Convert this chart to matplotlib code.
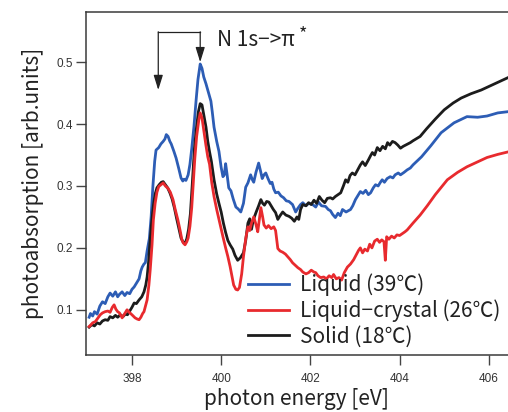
import matplotlib
matplotlib.use("Agg")
import matplotlib.pyplot as plt
import numpy as np

plt.rcParams["font.family"] = ["Liberation Sans", "DejaVu Sans"]

# N K-edge NEXAFS spectra, three phases
liquid_e = [397.04, 397.07, 397.12, 397.16, 397.22, 397.28, 397.34, 397.40, 397.46, 397.51,
            397.57, 397.63, 397.68, 397.72, 397.78, 397.84, 397.89, 397.95, 398.00, 398.05,
            398.10, 398.16, 398.20, 398.23, 398.27, 398.30, 398.34, 398.39, 398.43, 398.47,
            398.51, 398.54, 398.60, 398.65, 398.70, 398.74, 398.77, 398.81, 398.85, 398.88,
            398.94, 398.99, 399.05, 399.10, 399.14, 399.17, 399.21, 399.26, 399.30, 399.34,
            399.39, 399.44, 399.48, 399.53, 399.57, 399.61, 399.66, 399.70, 399.73, 399.77,
            399.80, 399.84, 399.90, 399.95, 400.00, 400.04, 400.07, 400.10, 400.13, 400.17,
            400.22, 400.27, 400.33, 400.38, 400.44, 400.50, 400.55, 400.60, 400.66, 400.70,
            400.73, 400.78, 400.84, 400.88, 400.92, 400.96, 401.00, 401.05, 401.10, 401.14,
            401.18, 401.22, 401.28, 401.34, 401.40, 401.46, 401.52, 401.60, 401.67, 401.72,
            401.78, 401.83, 401.90, 401.96, 402.05, 402.12, 402.18, 402.25, 402.34, 402.40,
            402.45, 402.50, 402.56, 402.62, 402.67, 402.72, 402.80, 402.90, 402.95, 403.01,
            403.06, 403.12, 403.18, 403.24, 403.30, 403.35, 403.41, 403.46, 403.52, 403.57,
            403.61, 403.66, 403.72, 403.79, 403.85, 403.90, 403.97, 404.02, 404.10, 404.17,
            404.24, 404.30, 404.49, 404.70, 404.93, 405.22, 405.51, 405.75, 405.96, 406.20,
            406.43]
liquid_y = [0.088, 0.094, 0.090, 0.097, 0.093, 0.106, 0.113, 0.110, 0.121, 0.127,
            0.122, 0.129, 0.121, 0.125, 0.129, 0.123, 0.128, 0.126, 0.133, 0.137,
            0.143, 0.150, 0.163, 0.169, 0.174, 0.176, 0.195, 0.215, 0.250, 0.300,
            0.340, 0.358, 0.362, 0.368, 0.372, 0.376, 0.383, 0.380, 0.372, 0.368,
            0.356, 0.345, 0.328, 0.313, 0.308, 0.311, 0.309, 0.318, 0.335, 0.360,
            0.396, 0.440, 0.472, 0.497, 0.490, 0.476, 0.465, 0.455, 0.447, 0.437,
            0.420, 0.395, 0.372, 0.356, 0.330, 0.315, 0.318, 0.336, 0.320, 0.297,
            0.292, 0.279, 0.266, 0.263, 0.258, 0.272, 0.298, 0.305, 0.318, 0.310,
            0.306, 0.322, 0.337, 0.325, 0.312, 0.318, 0.321, 0.312, 0.304, 0.306,
            0.295, 0.289, 0.290, 0.284, 0.281, 0.276, 0.275, 0.270, 0.258, 0.264,
            0.270, 0.273, 0.268, 0.272, 0.270, 0.266, 0.274, 0.268, 0.267, 0.262,
            0.260, 0.254, 0.249, 0.256, 0.252, 0.262, 0.258, 0.262, 0.268, 0.278,
            0.284, 0.291, 0.288, 0.293, 0.286, 0.289, 0.297, 0.302, 0.300, 0.306,
            0.310, 0.306, 0.312, 0.315, 0.313, 0.318, 0.321, 0.318, 0.322, 0.326,
            0.329, 0.334, 0.347, 0.365, 0.386, 0.402, 0.412, 0.411, 0.413, 0.418,
            0.420]

lc_e = [397.04, 397.07, 397.12, 397.18, 397.23, 397.29, 397.34, 397.40, 397.46, 397.51,
        397.56, 397.60, 397.64, 397.68, 397.72, 397.78, 397.83, 397.89, 397.94, 398.00,
        398.04, 398.07, 398.12, 398.16, 398.20, 398.24, 398.27, 398.30, 398.34, 398.38,
        398.41, 398.45, 398.48, 398.52, 398.56, 398.60, 398.65, 398.70, 398.75, 398.81,
        398.86, 398.92, 398.97, 399.03, 399.08, 399.12, 399.15, 399.19, 399.23, 399.26,
        399.30, 399.34, 399.37, 399.41, 399.45, 399.50, 399.53, 399.57, 399.61, 399.66,
        399.70, 399.74, 399.79, 399.84, 399.90, 399.95, 399.99, 400.04, 400.10, 400.15,
        400.20, 400.24, 400.28, 400.33, 400.37, 400.41, 400.46, 400.50, 400.55, 400.60,
        400.64, 400.68, 400.73, 400.78, 400.82, 400.86, 400.89, 400.93, 400.96, 401.01,
        401.06, 401.12, 401.18, 401.22, 401.27, 401.32, 401.38, 401.44, 401.49, 401.55,
        401.60, 401.66, 401.72, 401.78, 401.83, 401.90, 401.96, 402.02, 402.08, 402.12,
        402.17, 402.23, 402.30, 402.36, 402.42, 402.48, 402.52, 402.58, 402.64, 402.70,
        402.76, 402.83, 402.90, 402.97, 403.03, 403.08, 403.12, 403.17, 403.22, 403.28,
        403.33, 403.38, 403.44, 403.50, 403.55, 403.60, 403.65, 403.68, 403.71, 403.76,
        403.82, 403.88, 403.94, 404.00, 404.06, 404.12, 404.17, 404.30, 404.46, 404.62,
        404.80, 405.07, 405.30, 405.51, 405.75, 405.96, 406.20, 406.43]
lc_y = [0.073, 0.075, 0.079, 0.081, 0.086, 0.092, 0.095, 0.097, 0.098, 0.096,
        0.104, 0.108, 0.101, 0.097, 0.095, 0.087, 0.093, 0.100, 0.096, 0.092,
        0.089, 0.087, 0.085, 0.084, 0.088, 0.094, 0.097, 0.105, 0.116, 0.140,
        0.165, 0.205, 0.245, 0.272, 0.290, 0.299, 0.302, 0.305, 0.300, 0.296,
        0.290, 0.278, 0.262, 0.245, 0.228, 0.213, 0.208, 0.205, 0.210, 0.216,
        0.235, 0.265, 0.300, 0.345, 0.380, 0.407, 0.418, 0.410, 0.390, 0.365,
        0.347, 0.335, 0.305, 0.283, 0.262, 0.246, 0.234, 0.218, 0.200, 0.186,
        0.170, 0.155, 0.140, 0.133, 0.132, 0.136, 0.158, 0.186, 0.215, 0.234,
        0.228, 0.240, 0.250, 0.238, 0.226, 0.248, 0.265, 0.250, 0.237, 0.232,
        0.236, 0.231, 0.234, 0.228, 0.199, 0.195, 0.193, 0.190, 0.186, 0.181,
        0.176, 0.172, 0.168, 0.165, 0.161, 0.158, 0.160, 0.164, 0.161, 0.160,
        0.155, 0.152, 0.153, 0.150, 0.155, 0.152, 0.157, 0.150, 0.152, 0.148,
        0.160, 0.169, 0.174, 0.181, 0.189, 0.196, 0.200, 0.192, 0.198, 0.195,
        0.206, 0.200, 0.211, 0.214, 0.209, 0.213, 0.210, 0.180, 0.218, 0.214,
        0.219, 0.216, 0.221, 0.220, 0.223, 0.226, 0.229, 0.240, 0.253, 0.268,
        0.286, 0.310, 0.322, 0.331, 0.339, 0.346, 0.351, 0.355]

solid_e = [397.04, 397.10, 397.16, 397.22, 397.28, 397.34, 397.40, 397.46, 397.51, 397.57,
           397.63, 397.68, 397.74, 397.80, 397.85, 397.90, 397.95, 398.00, 398.05, 398.10,
           398.16, 398.22, 398.27, 398.31, 398.34, 398.37, 398.40, 398.44, 398.48, 398.52,
           398.56, 398.61, 398.66, 398.70, 398.75, 398.80, 398.85, 398.90, 398.95, 399.00,
           399.05, 399.10, 399.15, 399.19, 399.23, 399.27, 399.31, 399.35, 399.40, 399.44,
           399.49, 399.53, 399.57, 399.61, 399.66, 399.70, 399.74, 399.78, 399.84, 399.90,
           399.95, 400.00, 400.05, 400.10, 400.15, 400.20, 400.26, 400.31, 400.37, 400.43,
           400.50, 400.55, 400.60, 400.64, 400.68, 400.72, 400.78, 400.84, 400.89, 400.93,
           400.97, 401.02, 401.07, 401.12, 401.17, 401.22, 401.27, 401.32, 401.38, 401.45,
           401.52, 401.58, 401.64, 401.70, 401.74, 401.78, 401.83, 401.90, 401.96, 402.02,
           402.08, 402.14, 402.20, 402.26, 402.32, 402.38, 402.45, 402.50, 402.56, 402.62,
           402.68, 402.74, 402.79, 402.84, 402.89, 402.94, 403.00, 403.06, 403.12, 403.17,
           403.23, 403.30, 403.35, 403.39, 403.44, 403.50, 403.56, 403.62, 403.68, 403.73,
           403.78, 403.84, 403.90, 403.96, 404.02, 404.08, 404.16, 404.24, 404.30, 404.46,
           404.60, 404.80, 405.00, 405.20, 405.38, 405.60, 405.83, 406.10, 406.43]
solid_y = [0.072, 0.076, 0.074, 0.079, 0.077, 0.082, 0.084, 0.083, 0.089, 0.087,
           0.091, 0.088, 0.092, 0.089, 0.093, 0.092, 0.098, 0.104, 0.111, 0.110,
           0.116, 0.121, 0.129, 0.140, 0.153, 0.175, 0.205, 0.240, 0.268, 0.287,
           0.297, 0.302, 0.306, 0.307, 0.302, 0.297, 0.289, 0.279, 0.265, 0.248,
           0.232, 0.216, 0.209, 0.207, 0.215, 0.230, 0.255, 0.300, 0.360, 0.390,
           0.420, 0.433, 0.431, 0.415, 0.395, 0.372, 0.355, 0.340, 0.310, 0.287,
           0.272, 0.258, 0.240, 0.225, 0.212, 0.205, 0.198, 0.188, 0.180, 0.184,
           0.192, 0.212, 0.240, 0.247, 0.230, 0.245, 0.257, 0.268, 0.278, 0.272,
           0.269, 0.275, 0.274, 0.268, 0.262, 0.257, 0.246, 0.252, 0.258, 0.253,
           0.251, 0.248, 0.243, 0.250, 0.246, 0.262, 0.270, 0.268, 0.273, 0.270,
           0.277, 0.272, 0.283, 0.277, 0.273, 0.280, 0.281, 0.279, 0.283, 0.286,
           0.289, 0.300, 0.310, 0.306, 0.317, 0.321, 0.318, 0.326, 0.334, 0.339,
           0.333, 0.342, 0.349, 0.354, 0.350, 0.362, 0.357, 0.364, 0.360, 0.370,
           0.366, 0.372, 0.370, 0.366, 0.361, 0.364, 0.367, 0.370, 0.373, 0.380,
           0.392, 0.408, 0.423, 0.434, 0.442, 0.449, 0.455, 0.464, 0.475]

labels = ["Liquid (39℃)", "Liquid−crystal (26℃)", "Solid (18℃)"]
colors = ["#2d5db5", "#e82a2e", "#1c1c1c"]

jp = ["Noto Sans CJK JP", "DejaVu Sans"]
ink = "#222222"

fig = plt.figure(figsize=(5.08, 4.12), dpi=100)
ax = fig.add_axes([86 / 508, 57 / 412, 422 / 508, 343 / 412])

series = [(liquid_e, liquid_y), (lc_e, lc_y), (solid_e, solid_y)]
zorders = [2, 4, 3]
handles = []
for (e, y), lab, c, z in zip(series, labels, colors, zorders):
    h, = ax.plot(e, y, color=c, lw=2.0, label=lab, zorder=z, solid_joinstyle="round")
    handles.append(h)

ax.set_xlim(396.97, 406.43)
ax.set_ylim(0.027, 0.581)
ax.set_xticks([398, 400, 402, 404, 406])
ax.set_yticks([0.1, 0.2, 0.3, 0.4, 0.5])
ax.set_yticklabels(["0.1", "0.2", "0.3", "0.4", "0.5"])
ax.tick_params(direction="out", length=7, width=1.0, color="#444444",
               labelsize=8.5, labelcolor="#333333")
ax.tick_params(axis="y", pad=2.5)
ax.tick_params(axis="x", pad=6)

for side in ["top", "left", "bottom"]:
    ax.spines[side].set_color("#3a3a3a")
    ax.spines[side].set_linewidth(1.1)
ax.spines["right"].set_visible(False)

ax.set_xlabel("photon energy [eV]", fontsize=15, family=jp, color=ink, labelpad=2)
ax.set_ylabel("photoabsorption [arb.units]", fontsize=15, family=jp, color=ink, labelpad=9)

# bracket with arrows marking the two N 1s -> pi* features
peak_x = liquid_e[int(np.argmax(liquid_y))]
left_x = 398.59
bracket_y = 0.549
ax.plot([left_x, peak_x], [bracket_y, bracket_y], color=ink, lw=0.9, zorder=5)
arrow_kw = dict(arrowstyle="-|>,head_length=0.9,head_width=0.28", color=ink, lw=0.9,
                shrinkA=0, shrinkB=0)
ax.annotate("", xy=(left_x, 0.455), xytext=(left_x, bracket_y), arrowprops=arrow_kw, zorder=5)
ax.annotate("", xy=(peak_x, max(liquid_y) + 0.003), xytext=(peak_x, bracket_y),
            arrowprops=arrow_kw, zorder=5)
trans = ax.text(399.9, 0.536, "N 1s−>π", fontsize=15, family=jp, color=ink,
                va="center", ha="left")
ax.annotate("*", xy=(1.0, 1.0), xycoords=trans, xytext=(3, -4), textcoords="offset points",
            fontsize=13, family=jp, color=ink, ha="left", va="center")

leg = ax.legend(handles=handles, loc="upper left", bbox_to_anchor=(0.384, 0.238),
                frameon=False, borderpad=0, borderaxespad=0, handlelength=1.97,
                handletextpad=0.53, labelspacing=0.17, prop={"family": jp, "size": 15})
for line in leg.get_lines():
    line.set_linewidth(2.0)
for t in leg.get_texts():
    t.set_color(ink)

fig.savefig("out.png", dpi=100)
